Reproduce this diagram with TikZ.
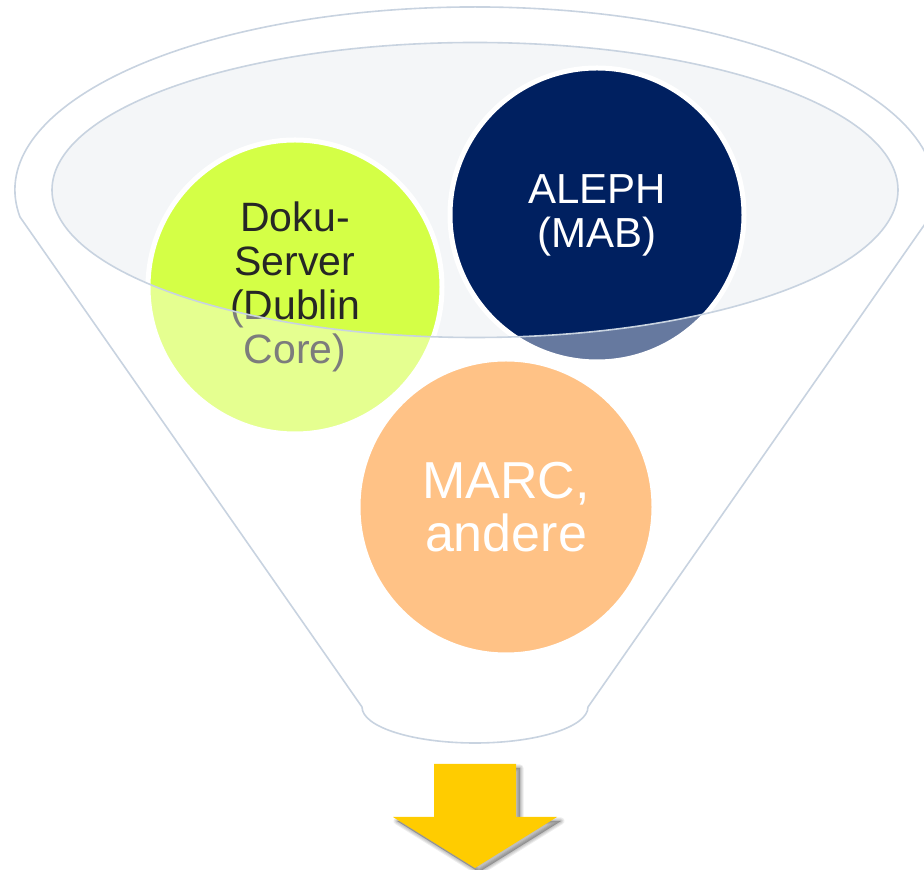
\documentclass[tikz,border=0pt]{standalone}
\usepackage{fontspec}
\setmainfont{Liberation Sans}
\definecolor{funnelline}{RGB}{200,211,224}
\definecolor{ellfill}{RGB}{244,246,248}
\definecolor{dokugreen}{RGB}{212,255,70}
\definecolor{alephnavy}{RGB}{0,32,96}
\definecolor{marcorange}{RGB}{255,194,134}
\definecolor{arrowyellow}{RGB}{255,204,0}
\definecolor{darktext}{RGB}{38,38,38}
\tikzset{
  bubble/.style={circle, draw=white, line width=5pt, inner sep=0pt, align=center},
  outline/.style={draw=funnelline, line width=1.6pt, line join=round},
}
\newcommand\funnelpath{(20,653) arc[start angle=188.5, end angle=-8.5, x radius=460, y radius=183] -- (588,163) arc[start angle=0, end angle=-180, x radius=113, y radius=36] -- cycle}
\newcommand\ellpath{(475,680) ellipse[x radius=423, y radius=147.5]}
\newcommand\arrowpath{(434,106) -- (516,106) -- (516,53) -- (557,53) -- (475,2) -- (393,53) -- (434,53) -- cycle}
\begin{document}
\begin{tikzpicture}[x=1pt, y=1pt]
  \useasboundingbox (0,0) rectangle (924,870);
  % inner ellipse fill
  \fill[ellfill] \ellpath;
  % upper circles
  \node[bubble, fill=dokugreen, text=darktext, minimum size=294pt, font=\fontsize{41}{44}\selectfont] (doku) at (295,583) {Doku-\\Server\\(Dublin\\Core)};
  \node[bubble, fill=alephnavy, text=white, minimum size=294pt, font=\fontsize{42}{44}\selectfont] (aleph) at (597,655) {ALEPH\\(MAB)};
  % translucent funnel body (outside the ellipse)
  \fill[white, opacity=0.4, even odd rule] \funnelpath \ellpath;
  % outlines
  \path[outline] \funnelpath;
  \path[outline] \ellpath;
  % lower circle
  \node[bubble, fill=marcorange, text=white, minimum size=296pt, font=\fontsize{52}{53}\selectfont] (marc) at (506,363) {MARC,\\andere};
  % arrow shadow
  \begin{scope}[shift={(4,-4)}]
    \foreach \lw in {7,5,3,1} {
      \filldraw[black, opacity=0.07, line width=\lw pt, line join=round] \arrowpath;
    }
  \end{scope}
  % arrow
  \fill[arrowyellow] \arrowpath;
\end{tikzpicture}
\end{document}
